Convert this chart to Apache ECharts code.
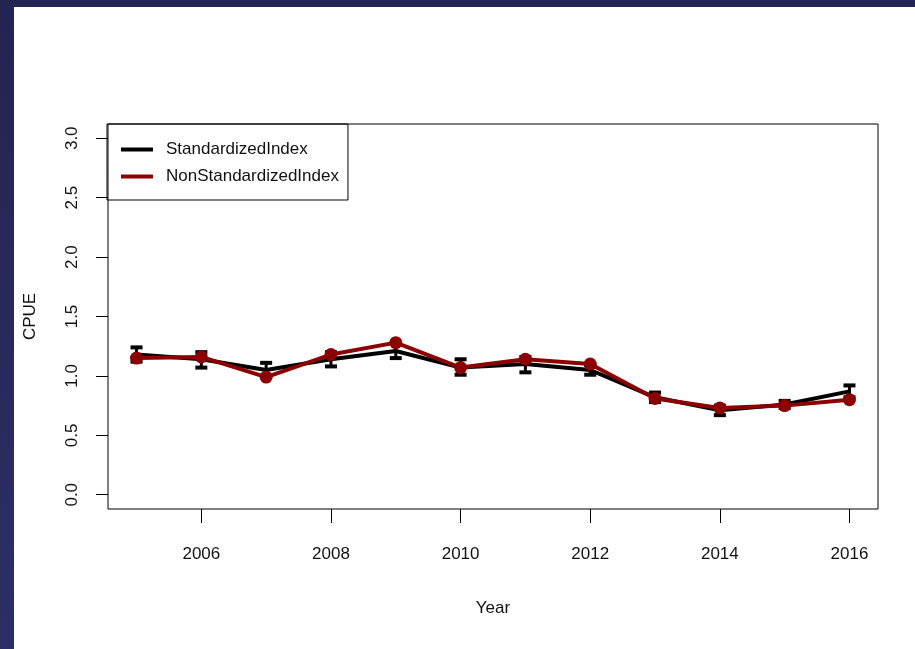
<!DOCTYPE html>
<html lang="en" style="height: 100%">
<head>
    <meta charset="utf-8">
    <script src="https://cdn.jsdelivr.net/npm/echarts@6/dist/echarts.min.js"></script>
</head>
<body style="height: 100%; margin: 0; background: linear-gradient(#232450, #2c2f63);">
<div id="container" style="position: absolute; left: 14px; top: 7px; width: 901px; height: 642px; background: #fff"></div>

<script type="text/javascript">
    var years = [2005, 2006, 2007, 2008, 2009, 2010, 2011, 2012, 2013, 2014, 2015, 2016];
    var stdIndex = [1.18, 1.14, 1.05, 1.14, 1.21, 1.07, 1.10, 1.05, 0.82, 0.71, 0.76, 0.87];
    var stdLow = [1.12, 1.07, 0.99, 1.08, 1.15, 1.01, 1.03, 1.01, 0.78, 0.67, 0.73, 0.82];
    var stdHigh = [1.24, 1.20, 1.11, 1.20, 1.27, 1.14, 1.16, 1.09, 0.86, 0.75, 0.79, 0.92];
    var nonStdIndex = [1.15, 1.16, 0.99, 1.18, 1.28, 1.07, 1.14, 1.10, 0.81, 0.73, 0.75, 0.80];
    var xTicks = [2006, 2008, 2010, 2012, 2014, 2016];
    var yTicks = [0, 0.5, 1, 1.5, 2, 2.5, 3];

    var font = "'Liberation Sans', Arial, sans-serif";
    var red = '#8b0000';

    var myChart = echarts.init(document.getElementById("container"));

    var stdData = [], errData = [], nonStdData = [];
    for (var i = 0; i < years.length; i++) {
        stdData.push([years[i], stdIndex[i]]);
        errData.push([years[i], stdLow[i], stdHigh[i]]);
        nonStdData.push([years[i], nonStdIndex[i]]);
    }

    // vertical bar with flat caps, like R's arrows(angle = 90)
    function renderErr(params, api) {
        var lo = api.coord([api.value(0), api.value(1)]);
        var hi = api.coord([api.value(0), api.value(2)]);
        var w = 6;
        return {
            type: 'group',
            children: [
                {type: 'line', shape: {x1: lo[0], y1: lo[1], x2: hi[0], y2: hi[1]}, style: {stroke: '#000', lineWidth: 3}},
                {type: 'line', shape: {x1: lo[0] - w, y1: lo[1], x2: lo[0] + w, y2: lo[1]}, style: {stroke: '#000', lineWidth: 4}},
                {type: 'line', shape: {x1: hi[0] - w, y1: hi[1], x2: hi[0] + w, y2: hi[1]}, style: {stroke: '#000', lineWidth: 4}}
            ]
        };
    }

    option = {
        animation: false,
        textStyle: {fontFamily: font},
        grid: {
            left: 93,
            right: 37,
            top: 117,
            bottom: 140,
            show: true,
            borderColor: '#000',
            borderWidth: 1
        },
        legend: {
            orient: 'vertical',
            left: 93,
            top: 117,
            padding: [17, 9, 15, 14],
            itemGap: 10,
            itemWidth: 32,
            itemHeight: 4,
            icon: 'rect',
            borderColor: '#000',
            borderWidth: 1,
            textStyle: {fontSize: 17, color: '#111', fontFamily: font, padding: [0, 0, 0, 8]},
            data: ['StandardizedIndex', 'NonStandardizedIndex']
        },
        xAxis: {
            type: 'value',
            min: 2004.56,
            max: 2016.44,
            name: 'Year',
            nameLocation: 'middle',
            nameGap: 91,
            nameTextStyle: {fontSize: 17, color: '#111'},
            splitLine: {show: false},
            axisLine: {show: false, onZero: false},
            axisTick: {show: true, length: 14, customValues: xTicks, lineStyle: {color: '#000'}},
            axisLabel: {
                customValues: xTicks,
                margin: 37,
                fontSize: 17,
                color: '#111',
                formatter: function (v) { return String(v); }
            }
        },
        yAxis: {
            type: 'value',
            min: -0.12,
            max: 3.12,
            name: 'CPUE',
            nameLocation: 'middle',
            nameGap: 69,
            nameTextStyle: {fontSize: 17, color: '#111'},
            splitLine: {show: false},
            axisLine: {show: false, onZero: false},
            axisTick: {show: true, length: 12, customValues: yTicks, lineStyle: {color: '#000'}},
            axisLabel: {
                customValues: yTicks,
                rotate: 90,
                margin: 27,
                fontSize: 17,
                color: '#111',
                formatter: function (v) { return v.toFixed(1); }
            }
        },
        series: [
            {
                name: 'StandardizedIndex',
                type: 'line',
                data: stdData,
                color: '#000',
                lineStyle: {width: 4, color: '#000'},
                showSymbol: false,
                z: 2
            },
            {
                name: 'stdErr',
                type: 'custom',
                data: errData,
                renderItem: renderErr,
                z: 3
            },
            {
                name: 'NonStandardizedIndex',
                type: 'line',
                data: nonStdData,
                color: red,
                lineStyle: {width: 4, color: red},
                symbol: 'circle',
                symbolSize: 13,
                itemStyle: {color: red},
                z: 4
            }
        ]
    };

    myChart.setOption(option);
</script>
</body>
</html>
